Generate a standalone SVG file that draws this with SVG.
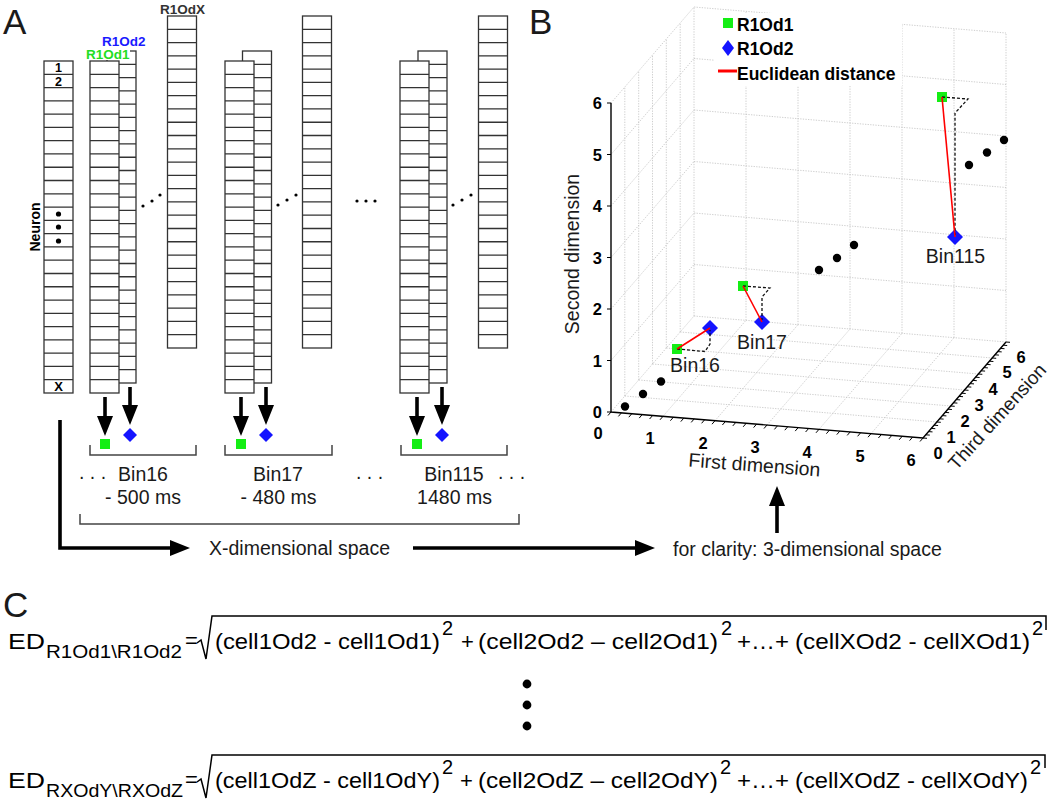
<svg xmlns="http://www.w3.org/2000/svg" width="1050" height="802" viewBox="0 0 1050 802">
<style>
text{font-family:"Liberation Sans",Arial,sans-serif;fill:#1a1a1a}
.lbl{font-size:35px}
.b{font-weight:bold}
.t19{font-size:19.5px}
.tk{font-size:16.5px;font-weight:bold;fill:#000}
.f{font-size:22px;fill:#000}
.sup{font-size:20px;fill:#000}
.sub{font-size:18px;fill:#000}
.grid{fill:none;stroke:#c2c2c2;stroke-width:0.8;stroke-dasharray:1.3 1.3}
.ax{fill:none;stroke:#000;stroke-width:1.4}
.tick{fill:none;stroke:#000;stroke-width:1}
.arr{fill:none;stroke:#000;stroke-width:3.6}
.brk{fill:none;stroke:#444;stroke-width:1.5}
.dash{fill:none;stroke:#111;stroke-width:1.3;stroke-dasharray:3 2}
.red{fill:none;stroke:#f00;stroke-width:1.6}
.rad{fill:none;stroke:#000;stroke-width:1.5}
.sq{fill:#14ee14}
.dia{fill:#1414ff}
.dot{fill:#000}
</style>
<defs>
<g id="col">
<rect x="0" y="0" width="29" height="332" fill="#fff" stroke="#333" stroke-width="1.3"/>
<path d="M0 13.28h29M0 26.56h29M0 39.84h29M0 53.12h29M0 66.4h29M0 79.68h29M0 92.96h29M0 106.24h29M0 119.52h29M0 132.8h29M0 146.08h29M0 159.36h29M0 172.64h29M0 185.92h29M0 199.2h29M0 212.48h29M0 225.76h29M0 239.04h29M0 252.32h29M0 265.6h29M0 278.88h29M0 292.16h29M0 305.44h29M0 318.72h29" stroke="#333" stroke-width="1.3" fill="none"/>
</g>
<rect id="sqA" class="sq" x="-5" y="-5" width="10" height="10"/>
<path id="diaA" class="dia" d="M0 -7L7 0L0 7L-7 0z"/>
<path id="diaB" class="dia" d="M0 -8L8 0L0 8L-8 0z"/>
<marker id="ah" markerUnits="userSpaceOnUse" viewBox="0 0 20 16" markerWidth="20" markerHeight="16" refX="10" refY="8" orient="auto">
<path d="M0 0L20 8L0 16z" fill="#000"/>
</marker>
</defs>

<text class="lbl" x="3" y="34">A</text>
<text class="lbl" x="529" y="34">B</text>
<text class="lbl" x="3" y="617">C</text>

<!-- Panel A -->
<g id="neuron-col">
<use href="#col" x="44" y="61"/>
<text class="b" x="58.5" y="71.8" font-size="12.5" text-anchor="middle" style="fill:#000">1</text>
<text class="b" x="58.5" y="85.8" font-size="12.5" text-anchor="middle" style="fill:#000">2</text>
<text class="b" x="58.5" y="391" font-size="13" text-anchor="middle" style="fill:#000">X</text>
<circle class="dot" cx="58.5" cy="214" r="2.6"/>
<circle class="dot" cx="58.5" cy="227" r="2.6"/>
<circle class="dot" cx="58.5" cy="241" r="2.6"/>
<text class="b" font-size="14" text-anchor="middle" transform="translate(40 227) rotate(-90)" style="fill:#000">Neuron</text>
</g>

<g id="bin16">
<use href="#col" x="107" y="51"/>
<use href="#col" x="90" y="61"/>
<use href="#col" x="167.5" y="16"/>
<rect x="85" y="48" width="45" height="12" fill="#fff"/>
<text class="b" x="86" y="59" font-size="13.5" style="fill:#22dd22">R1Od1</text>
<text class="b" x="102" y="46" font-size="13.5" style="fill:#1a1aff">R1Od2</text>
<text class="b" x="160" y="14" font-size="13.5" style="fill:#333">R1OdX</text>
<circle class="dot" cx="143" cy="206" r="1.6"/>
<circle class="dot" cx="152" cy="201" r="1.6"/>
<circle class="dot" cx="160" cy="195" r="1.6"/>
<use href="#sqA" x="105" y="444"/>
<use href="#diaA" x="130" y="435"/>
</g>

<g id="bin17">
<use href="#col" x="242.5" y="51"/>
<use href="#col" x="225" y="61"/>
<use href="#col" x="302.5" y="16"/>
<circle class="dot" cx="278" cy="205" r="1.6"/>
<circle class="dot" cx="287" cy="200" r="1.6"/>
<circle class="dot" cx="296" cy="195" r="1.6"/>
<use href="#sqA" x="241" y="444"/>
<use href="#diaA" x="266" y="435"/>
</g>

<g id="mid-dots">
<circle class="dot" cx="357" cy="201" r="1.6"/>
<circle class="dot" cx="366" cy="201" r="1.6"/>
<circle class="dot" cx="375" cy="201" r="1.6"/>
</g>

<g id="bin115">
<use href="#col" x="418" y="51"/>
<use href="#col" x="400" y="61"/>
<use href="#col" x="478.5" y="16"/>
<circle class="dot" cx="453" cy="205" r="1.6"/>
<circle class="dot" cx="462" cy="200" r="1.6"/>
<circle class="dot" cx="471" cy="195" r="1.6"/>
<use href="#sqA" x="417" y="444"/>
<use href="#diaA" x="442" y="435"/>
</g>

<g id="bin-labels">
<path class="brk" d="M90 445V455H196V445M225 445V455H332V445M401 445V455H507V445M80 514V524H519V514"/>
<text class="t19" x="79" y="479">. . .</text>
<text class="t19" x="143" y="481" text-anchor="middle">Bin16</text>
<text class="t19" x="143" y="504" text-anchor="middle">- 500 ms</text>
<text class="t19" x="278" y="481" text-anchor="middle">Bin17</text>
<text class="t19" x="278.5" y="504" text-anchor="middle">- 480 ms</text>
<text class="t19" x="356" y="479">. . .</text>
<text class="t19" x="454" y="481" text-anchor="middle">Bin115</text>
<text class="t19" x="454.5" y="504" text-anchor="middle">1480 ms</text>
<text class="t19" x="498" y="479">. . .</text>
<text class="t19" x="209" y="555">X-dimensional space</text>
<text class="t19" x="673" y="556">for clarity: 3-dimensional space</text>
</g>

<g id="connectors">
<path class="arr" d="M105 397V426" marker-end="url(#ah)"/>
<path class="arr" d="M130 387V415" marker-end="url(#ah)"/>
<path class="arr" d="M241 397V426" marker-end="url(#ah)"/>
<path class="arr" d="M266 387V415" marker-end="url(#ah)"/>
<path class="arr" d="M417 397V426" marker-end="url(#ah)"/>
<path class="arr" d="M442 387V415" marker-end="url(#ah)"/>
<path class="arr" d="M60 420V548H180" marker-end="url(#ah)"/>
<path class="arr" d="M413 548H645" marker-end="url(#ah)"/>
<path class="arr" d="M777 533V496" marker-end="url(#ah)"/>
</g>

<!-- Panel B -->
<g id="plot-grid">
<path class="grid" d="M611 412L694 316M663 416.3L746 320.3M715 420.7L798 324.7M767 425L850 329M819 429.3L902 333.3M871 433.7L954 337.7M923 438L1006 342M624.8 396L936.8 422M638.7 380L950.7 406M652.5 364L964.5 390M666.3 348L978.3 374M680.2 332L992.2 358M694 316L1006 342M694 316V7M746 320.3V11.3M798 324.7V15.7M850 329V20M902 333.3V24.3M954 337.7V28.7M1006 342V33M694 264.5L1006 290.5M694 213L1006 239M694 161.5L1006 187.5M694 110L1006 136M694 58.5L1006 84.5M694 7L1006 33M624.8 396V87M638.7 380V71M652.5 364V55M666.3 348V39M680.2 332V23M611 360.5L694 264.5M611 309L694 213M611 257.5L694 161.5M611 206L694 110M611 154.5L694 58.5M611 103L694 7"/>
</g>
<g id="plot-axes">
<path class="ax" d="M611 103V412L923 438L1006 342"/>
<path class="tick" d="M611 412h-4M611 360.5h-4M611 309h-4M611 257.5h-4M611 206h-4M611 154.5h-4M611 103h-4"/>
<path class="tick" d="M611 412l-3 3.5M621.4 412.9l-3 3.5M631.8 413.7l-3 3.5M642.2 414.6l-3 3.5M652.6 415.5l-3 3.5M663 416.3l-3 3.5M673.4 417.2l-3 3.5M683.8 418.1l-3 3.5M694.2 418.9l-3 3.5M704.6 419.8l-3 3.5M715 420.7l-3 3.5M725.4 421.5l-3 3.5M735.8 422.4l-3 3.5M746.2 423.3l-3 3.5M756.6 424.1l-3 3.5M767 425l-3 3.5M777.4 425.9l-3 3.5M787.8 426.7l-3 3.5M798.2 427.6l-3 3.5M808.6 428.5l-3 3.5M819 429.3l-3 3.5M829.4 430.2l-3 3.5M839.8 431.1l-3 3.5M850.2 431.9l-3 3.5M860.6 432.8l-3 3.5M871 433.7l-3 3.5M881.4 434.5l-3 3.5M891.8 435.4l-3 3.5M902.2 436.3l-3 3.5M912.6 437.1l-3 3.5M923 438l-3 3.5"/>
<path class="tick" d="M923 438l4 .3M925.8 434.8l4 .3M928.5 431.6l4 .3M931.3 428.4l4 .3M934.1 425.2l4 .3M936.8 422l4 .3M939.6 418.8l4 .3M942.4 415.6l4 .3M945.1 412.4l4 .3M947.9 409.2l4 .3M950.7 406l4 .3M953.4 402.8l4 .3M956.2 399.6l4 .3M959 396.4l4 .3M961.7 393.2l4 .3M964.5 390l4 .3M967.3 386.8l4 .3M970 383.6l4 .3M972.8 380.4l4 .3M975.6 377.2l4 .3M978.3 374l4 .3M981.1 370.8l4 .3M983.9 367.6l4 .3M986.6 364.4l4 .3M989.4 361.2l4 .3M992.2 358l4 .3M994.9 354.8l4 .3M997.7 351.6l4 .3M1000.5 348.4l4 .3M1003.2 345.2l4 .3M1006 342l4 .3"/>
<g text-anchor="end">
<text class="tk" x="602" y="418">0</text>
<text class="tk" x="602" y="366.5">1</text>
<text class="tk" x="602" y="315">2</text>
<text class="tk" x="602" y="263.5">3</text>
<text class="tk" x="602" y="212">4</text>
<text class="tk" x="602" y="160.5">5</text>
<text class="tk" x="602" y="109">6</text>
</g>
<g text-anchor="middle">
<text class="tk" x="598" y="439">0</text>
<text class="tk" x="650" y="443.5">1</text>
<text class="tk" x="703" y="448.5">2</text>
<text class="tk" x="755" y="453">3</text>
<text class="tk" x="807" y="457.5">4</text>
<text class="tk" x="860" y="461.5">5</text>
<text class="tk" x="911" y="465.5">6</text>
<text class="tk" x="938" y="459">0</text>
<text class="tk" x="951" y="442.5">1</text>
<text class="tk" x="965" y="426.5">2</text>
<text class="tk" x="979" y="410.5">3</text>
<text class="tk" x="993" y="394.5">4</text>
<text class="tk" x="1007" y="378">5</text>
<text class="tk" x="1021" y="363">6</text>
</g>
<text class="t19" text-anchor="middle" transform="translate(754 471.5) rotate(4.3)">First dimension</text>
<text class="t19" text-anchor="middle" transform="translate(1002 421) rotate(-47.8)" style="font-size:19px">Third dimension</text>
<text class="t19" text-anchor="middle" transform="translate(579 254) rotate(-90)">Second dimension</text>
</g>

<g id="legend">
<rect x="714" y="13" width="188" height="73" fill="#fff"/>
<rect class="sq" x="723" y="18" width="10" height="10"/>
<text class="b" x="737" y="31" font-size="17.5" style="fill:#000">R1Od1</text>
<path class="dia" d="M728 40L734 48L728 56L722 48z"/>
<text class="b" x="737" y="55" font-size="17.5" style="fill:#000">R1Od2</text>
<path d="M718 71H737" stroke="#f00" stroke-width="3"/>
<text class="b" x="737" y="80" font-size="17.5" style="fill:#000">Euclidean distance</text>
</g>

<g id="data-dots">
<circle class="dot" cx="625" cy="406.5" r="4.2"/>
<circle class="dot" cx="643" cy="394" r="4.2"/>
<circle class="dot" cx="661" cy="381.5" r="4.2"/>
<circle class="dot" cx="819" cy="270" r="4.2"/>
<circle class="dot" cx="837" cy="258" r="4.2"/>
<circle class="dot" cx="854" cy="245" r="4.2"/>
<circle class="dot" cx="969" cy="165" r="4.2"/>
<circle class="dot" cx="987" cy="152.5" r="4.2"/>
<circle class="dot" cx="1004" cy="140" r="4.2"/>
</g>

<g id="pt-bin16">
<rect class="sq" x="672" y="344" width="10" height="10"/>
<use href="#diaB" x="710" y="328"/>
<path class="dash" d="M677 349L705 351.5L710 344L710 330"/>
<path class="red" d="M677 349L710 328"/>
<text class="t19" x="695" y="372" text-anchor="middle">Bin16</text>
</g>
<g id="pt-bin17">
<rect class="sq" x="738" y="281" width="10" height="10"/>
<use href="#diaB" x="762" y="322"/>
<path class="dash" d="M743 286L770 288L762 297L762 320"/>
<path class="red" d="M743 286L762 322"/>
<text class="t19" x="762" y="349" text-anchor="middle">Bin17</text>
</g>
<g id="pt-bin115">
<rect class="sq" x="937" y="92" width="10" height="10"/>
<use href="#diaB" x="955" y="237"/>
<path class="dash" d="M942 97L968 99L955 113L955 235"/>
<path class="red" d="M942 97L955 237"/>
<text class="t19" x="955.5" y="263" text-anchor="middle">Bin115</text>
</g>

<!-- Panel C -->
<g id="formula1">
<text class="f" x="8" y="649" textLength="37" lengthAdjust="spacingAndGlyphs">ED</text>
<text class="sub" x="46" y="658" textLength="136" lengthAdjust="spacingAndGlyphs">R1Od1\R1Od2</text>
<text class="f" x="185" y="648">=</text>
<path class="rad" d="M197 643L201 640L206 659L212 616H1046V630"/>
<text class="f" x="215" y="649" textLength="225" lengthAdjust="spacingAndGlyphs">(cell1Od2 - cell1Od1)</text>
<text class="sup" x="442" y="635">2</text>
<text class="f" x="461" y="649">+</text>
<text class="f" x="478" y="649" textLength="240" lengthAdjust="spacingAndGlyphs">(cell2Od2 – cell2Od1)</text>
<text class="sup" x="721" y="635">2</text>
<text class="f" x="737" y="649" textLength="52" lengthAdjust="spacingAndGlyphs">+…+</text>
<text class="f" x="795" y="649" textLength="235" lengthAdjust="spacingAndGlyphs">(cellXOd2 - cellXOd1)</text>
<text class="sup" x="1032" y="635">2</text>
</g>
<g id="vdots">
<circle class="dot" cx="527" cy="684" r="4.4"/>
<circle class="dot" cx="527" cy="705" r="4.4"/>
<circle class="dot" cx="527" cy="726" r="4.4"/>
</g>
<g id="formula2">
<text class="f" x="8" y="788" textLength="37" lengthAdjust="spacingAndGlyphs">ED</text>
<text class="sub" x="46" y="797" textLength="137" lengthAdjust="spacingAndGlyphs">RXOdY\RXOdZ</text>
<text class="f" x="185" y="787">=</text>
<path class="rad" d="M197 782L201 779L206 798L212 755H1045V768"/>
<text class="f" x="215" y="788" textLength="225" lengthAdjust="spacingAndGlyphs">(cell1OdZ - cell1OdY)</text>
<text class="sup" x="442" y="774">2</text>
<text class="f" x="460" y="788">+</text>
<text class="f" x="478" y="788" textLength="240" lengthAdjust="spacingAndGlyphs">(cell2OdZ – cell2OdY)</text>
<text class="sup" x="720" y="774">2</text>
<text class="f" x="737" y="788" textLength="52" lengthAdjust="spacingAndGlyphs">+…+</text>
<text class="f" x="795" y="788" textLength="233" lengthAdjust="spacingAndGlyphs">(cellXOdZ - cellXOdY)</text>
<text class="sup" x="1030" y="774">2</text>
</g>
</svg>
